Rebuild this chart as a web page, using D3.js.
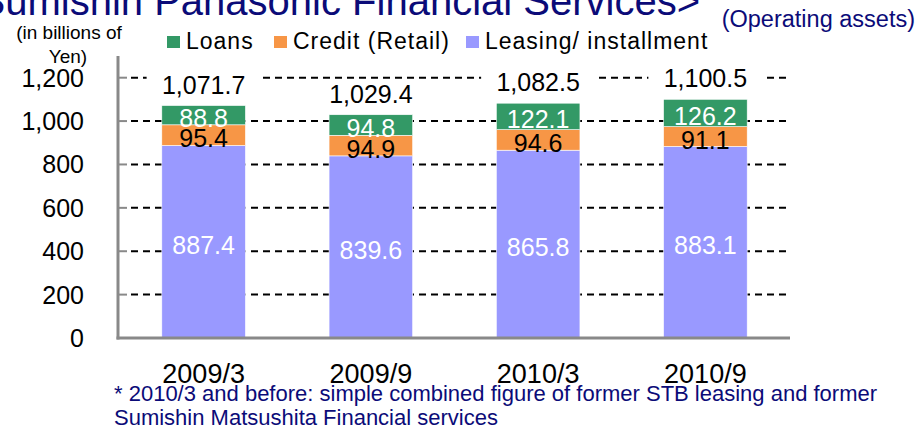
<!DOCTYPE html>
<html lang="en">
<head>
    <meta charset="UTF-8">
    <title>Sumishin Panasonic Financial Services - Operating assets</title>
    <script type="text/javascript" src="https://d3js.org/d3.v7.min.js"></script>
    <style>
        html, body {
            margin: 0;
            padding: 0;
            background: #fff;
            overflow: hidden;
        }
        svg text {
            font-family: "Liberation Sans", Arial, sans-serif;
        }
        .axis-line {
            stroke: #898989;
            stroke-width: 3;
        }
        .grid line {
            stroke: #000;
            stroke-width: 2;
            stroke-dasharray: 7, 5;
        }
    </style>
</head>
<body>
    <script>
        /* data */
        const categories = ["2009/3", "2009/9", "2010/3", "2010/9"];
        const leasing = [887.4, 839.6, 865.8, 883.1];
        const credit = [95.4, 94.9, 94.6, 91.1];
        const loans = [88.8, 94.8, 122.1, 126.2];
        const totals = [1071.7, 1029.4, 1082.5, 1100.5];
        const yTicks = [0, 200, 400, 600, 800, 1000, 1200];

        const seriesNames = ["Leasing/ installment", "Credit (Retail)", "Loans"];
        const seriesColors = ["#9999FF", "#F79646", "#339966"];
        const labelColors = ["#fff", "#000", "#fff"];

        const width = 919, height = 429;
        const navy = "#0b0b78";

        let svg = d3.select("body")
                    .append("svg")
                    .attr("width", width)
                    .attr("height", height);

        /* scales */
        let x = d3.scaleBand()
                  .domain(categories)
                  .range([120, 789])
                  .paddingInner(0.5)
                  .paddingOuter(0.25);

        let y = d3.scaleLinear()
                  .domain([0, 1300])
                  .range([338, 56]);

        /* stack the three series */
        let rows = categories.map((c, i) => ({
            cat: c,
            "Leasing/ installment": leasing[i],
            "Credit (Retail)": credit[i],
            "Loans": loans[i],
            total: totals[i]
        }));
        let stacked = d3.stack().keys(seriesNames)(rows);

        /* title (cut off at the top of the picture) */
        svg.append("text")
           .attr("x", 700)
           .attr("y", 15)
           .attr("text-anchor", "end")
           .attr("fill", navy)
           .style("font-size", "40px")
           .text("<Sumishin Panasonic Financial Services>");

        svg.append("text")
           .attr("x", 915)
           .attr("y", 27)
           .attr("text-anchor", "end")
           .attr("fill", navy)
           .style("font-size", "23.5px")
           .text("(Operating assets)");

        /* unit label */
        svg.append("text")
           .attr("x", 69)
           .attr("y", 39)
           .attr("text-anchor", "middle")
           .style("font-size", "19px")
           .text("(in billions of");
        svg.append("text")
           .attr("x", 68)
           .attr("y", 63)
           .attr("text-anchor", "middle")
           .style("font-size", "19px")
           .text("Yen)");

        /* legend */
        let legendItems = [
            { name: "Loans", color: seriesColors[2], x: 167 },
            { name: "Credit (Retail)", color: seriesColors[1], x: 274 },
            { name: "Leasing/ installment", color: seriesColors[0], x: 466 }
        ];
        let legend = svg.append("g")
                        .selectAll("g")
                        .data(legendItems)
                        .enter()
                        .append("g")
                        .attr("transform", d => `translate(${d.x}, 36)`);
        legend.append("rect")
              .attr("width", 13)
              .attr("height", 12)
              .attr("fill", d => d.color);
        legend.append("text")
              .attr("x", 19)
              .attr("y", 13)
              .style("font-size", "23px")
              .style("letter-spacing", "1px")
              .text(d => d.name);

        /* dashed gridlines */
        svg.append("g")
           .attr("class", "grid")
           .selectAll("line")
           .data(yTicks.filter(d => d > 0))
           .enter()
           .append("line")
           .attr("x1", 131)
           .attr("x2", 789)
           .attr("y1", d => y(d))
           .attr("y2", d => y(d));

        /* stacked bars */
        let layers = svg.append("g")
                        .selectAll("g")
                        .data(stacked)
                        .enter()
                        .append("g")
                        .attr("fill", (d, i) => seriesColors[i]);

        layers.selectAll("rect")
              .data(d => d)
              .enter()
              .append("rect")
              .attr("x", d => x(d.data.cat))
              .attr("width", x.bandwidth())
              .attr("y", d => y(d[1]))
              .attr("height", d => y(d[0]) - y(d[1]))
              .attr("stroke", "#fff")
              .attr("stroke-width", 0.6);

        /* segment value labels */
        stacked.forEach((layer, li) => {
            svg.append("g")
               .selectAll("text")
               .data(layer)
               .enter()
               .append("text")
               .attr("x", d => x(d.data.cat) + x.bandwidth() / 2)
               .attr("y", d => (y(d[0]) + y(d[1])) / 2 + 12)
               .attr("text-anchor", "middle")
               .attr("fill", labelColors[li])
               .style("font-size", "25px")
               .text(d => d3.format(".1f")(d[1] - d[0]));
        });

        /* totals with white backing so the gridline breaks */
        let totalG = svg.append("g")
                        .selectAll("g")
                        .data(rows)
                        .enter()
                        .append("g")
                        .attr("transform", d => `translate(${x(d.cat) + x.bandwidth() / 2}, ${y(d.total) - 12})`);
        totalG.append("rect")
              .attr("x", -57)
              .attr("y", -22)
              .attr("width", 114)
              .attr("height", 26)
              .attr("fill", "#fff");
        totalG.append("text")
              .attr("text-anchor", "middle")
              .style("font-size", "25px")
              .text(d => d3.format(",.1f")(d.total));

        /* axes */
        svg.append("line")
           .attr("class", "axis-line")
           .attr("x1", 118).attr("x2", 118)
           .attr("y1", y(1300)).attr("y2", y(0) + 1.5);
        svg.append("line")
           .attr("class", "axis-line")
           .attr("x1", 116.5).attr("x2", 790)
           .attr("y1", y(0)).attr("y2", y(0));

        let yAxis = svg.append("g");
        yAxis.selectAll("line")
             .data(yTicks.filter(d => d > 0))
             .enter()
             .append("line")
             .attr("class", "axis-line")
             .attr("x1", 118)
             .attr("x2", 127)
             .attr("y1", d => y(d))
             .attr("y2", d => y(d))
             .style("stroke-width", 2);
        yAxis.selectAll("text")
             .data(yTicks)
             .enter()
             .append("text")
             .attr("x", 84)
             .attr("y", d => y(d) + 9)
             .attr("text-anchor", "end")
             .style("font-size", "25px")
             .text(d => d3.format(",")(d));

        /* category labels */
        svg.append("g")
           .selectAll("text")
           .data(categories)
           .enter()
           .append("text")
           .attr("x", d => x(d) + x.bandwidth() / 2)
           .attr("y", 383)
           .attr("text-anchor", "middle")
           .style("font-size", "27px")
           .text(d => d);

        /* footnote */
        let note = svg.append("text")
                      .attr("fill", navy)
                      .style("font-size", "22px");
        note.append("tspan")
            .attr("x", 114)
            .attr("y", 401)
            .text("* 2010/3 and before: simple combined figure of former STB leasing and former");
        note.append("tspan")
            .attr("x", 114)
            .attr("y", 425)
            .text("Sumishin Matsushita Financial services");
    </script>
</body>
</html>
